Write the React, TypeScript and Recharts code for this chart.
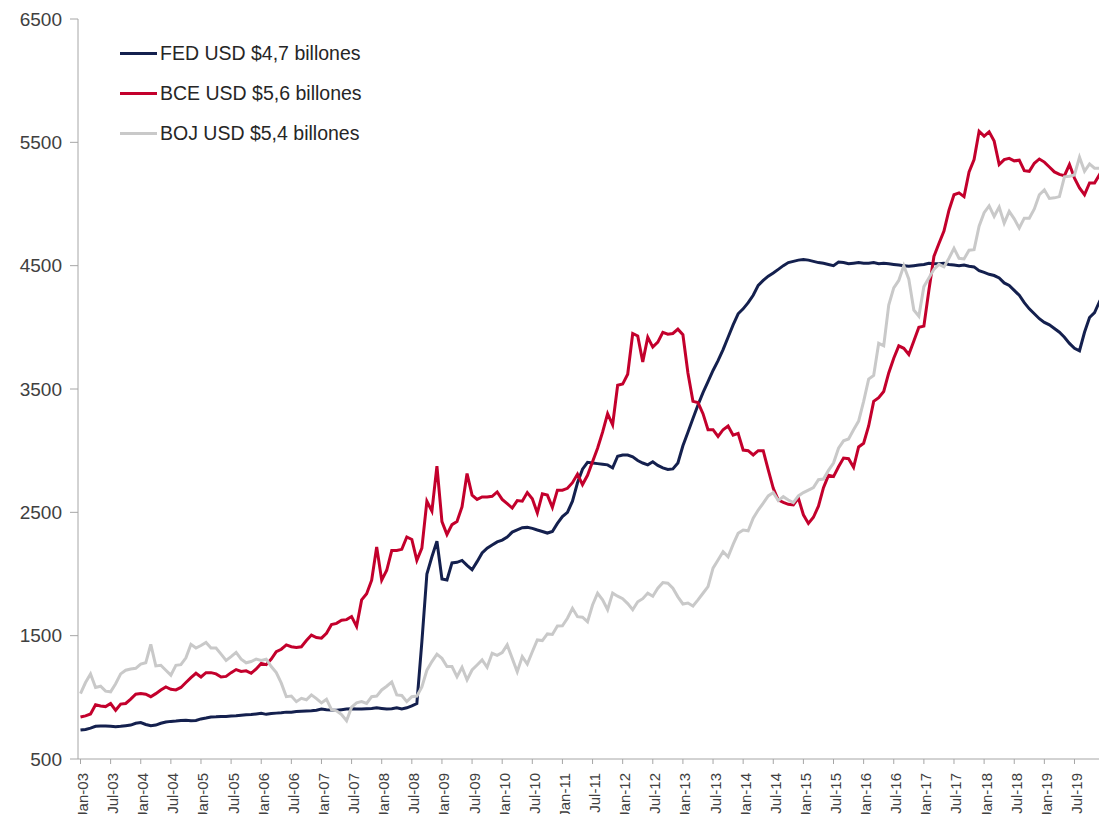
import { LineChart, Line, XAxis, YAxis } from "recharts";

// monthly, Jan-03 .. Jan-20 (USD billions)
const MONTHS = ["Jan", "Feb", "Mar", "Apr", "May", "Jun", "Jul", "Aug", "Sep", "Oct", "Nov", "Dec"];
const FIRST_YEAR = 3;

const FED = [
  735, 740, 750, 765, 768, 768, 765, 762, 765, 770, 775, 790,
  795, 780, 770, 775, 790, 800, 805, 808, 812, 815, 810, 812,
  825, 832, 840, 842, 845, 845, 848, 850, 855, 858, 860, 865,
  870, 862, 868, 872, 875, 880, 880, 885, 888, 890, 892, 895,
  905, 900, 897, 895, 900, 905, 908, 905, 905, 908, 910, 915,
  910, 905, 908, 915, 905, 915, 930, 950, 1450, 2000, 2140, 2265,
  1960, 1952, 2090, 2095, 2110, 2070, 2035, 2100, 2170, 2210, 2235, 2260,
  2275, 2300, 2340, 2357, 2375, 2378, 2370, 2357, 2345, 2332, 2345, 2410,
  2465, 2500, 2590, 2740, 2850, 2905, 2900, 2895, 2890, 2885, 2860, 2955,
  2965, 2965, 2950, 2920, 2900, 2885, 2910, 2880, 2860, 2848, 2852, 2900,
  3040, 3150, 3260, 3370, 3470, 3560, 3650, 3730, 3820, 3920, 4020, 4110,
  4150, 4200, 4260, 4340, 4380, 4415, 4440, 4470, 4500, 4525, 4535, 4545,
  4550, 4545, 4535, 4525, 4520, 4510, 4500, 4530, 4525, 4515, 4520, 4525,
  4520, 4520, 4525, 4515, 4520, 4515, 4510, 4505, 4500, 4495, 4500, 4505,
  4510, 4520, 4515, 4515, 4520, 4510, 4505, 4500, 4505, 4495, 4490, 4460,
  4445, 4430, 4420, 4400, 4360, 4340, 4300, 4260, 4200, 4150, 4110, 4070,
  4040, 4020, 3990, 3960, 3920, 3870, 3830, 3810, 3960, 4080, 4120, 4210,
  4200,
];

const BCE = [
  840, 850, 865, 940, 930, 925, 950, 895, 945, 950, 985, 1025,
  1030, 1025, 1005, 1030, 1060, 1085, 1065, 1060, 1080, 1120, 1160, 1195,
  1165, 1200, 1200, 1190, 1165, 1170, 1200, 1225, 1210, 1215, 1195, 1230,
  1275, 1265, 1310, 1370, 1390, 1425, 1410, 1405, 1410, 1460, 1505, 1485,
  1480, 1520, 1590, 1600, 1625, 1630, 1655, 1575, 1790, 1840, 1950, 2220,
  1950, 2030, 2190, 2190, 2200, 2300, 2280, 2110, 2210, 2590, 2510, 2875,
  2425, 2320, 2400, 2425, 2545, 2815, 2640, 2605, 2625, 2625, 2630, 2665,
  2605, 2570, 2535, 2595, 2590, 2660, 2610, 2495, 2650, 2640, 2540, 2680,
  2680, 2695, 2740, 2810, 2725, 2800, 2910, 3020, 3150, 3300, 3210, 3530,
  3540, 3620, 3950, 3930, 3720, 3920, 3840, 3880, 3960, 3945, 3950, 3985,
  3940, 3630, 3400, 3390, 3300, 3170, 3170, 3115, 3170, 3200, 3125, 3140,
  3005, 3000, 2965, 3000, 3000, 2845, 2695, 2600, 2580, 2565, 2560, 2615,
  2480, 2410, 2460, 2550, 2700, 2800, 2790, 2870, 2940, 2935, 2865, 3030,
  3060, 3200, 3400, 3430, 3480, 3630, 3750, 3850, 3830, 3780, 3890, 4000,
  4010, 4300, 4575, 4680, 4780, 4950, 5075, 5090, 5060, 5260, 5360, 5590,
  5550, 5585, 5510, 5320, 5360, 5370, 5350, 5355, 5270, 5265, 5330, 5365,
  5340, 5300, 5260, 5240, 5230, 5320, 5210, 5130, 5075, 5170, 5170, 5240,
  5175,
];

const BOJ = [
  1030, 1120, 1190, 1080, 1090, 1050, 1045, 1110, 1190, 1220, 1230, 1235,
  1270, 1280, 1430, 1255, 1260, 1220, 1180, 1260, 1265, 1320, 1430, 1400,
  1420, 1445, 1400, 1400, 1350, 1300, 1330, 1365, 1310, 1280, 1290, 1310,
  1300, 1310, 1250, 1200, 1115, 1005, 1010, 965, 992, 980, 1020, 990,
  955, 985, 900, 890, 860, 810, 920, 955, 965, 950, 1005, 1010,
  1060, 1090, 1125, 1020, 1015, 965, 1005, 1010, 1085, 1220, 1290, 1350,
  1316, 1250, 1250, 1168, 1244, 1141, 1222, 1262, 1303, 1244, 1357, 1340,
  1362, 1425, 1316, 1208, 1330, 1270, 1370, 1465, 1460, 1514, 1510, 1579,
  1580, 1641, 1722, 1654, 1650, 1613, 1749, 1844, 1790, 1710, 1845, 1820,
  1800, 1760, 1710, 1775, 1800, 1845, 1820, 1885, 1930, 1925, 1885, 1815,
  1757, 1765, 1741, 1790, 1844, 1898, 2047, 2114, 2181, 2140, 2240, 2330,
  2357, 2350, 2452, 2519, 2574, 2633, 2660, 2595, 2627, 2600, 2579, 2633,
  2660, 2680, 2700, 2765, 2770, 2840, 2900, 3020, 3080, 3095, 3170, 3240,
  3400, 3580, 3610, 3870, 3850, 4180, 4320, 4380, 4500, 4390, 4140, 4090,
  4330, 4400, 4470, 4510, 4490, 4560, 4640, 4560, 4555, 4625, 4630, 4820,
  4930, 4985, 4900, 4975, 4845, 4940, 4880, 4805, 4885, 4885, 4960, 5075,
  5115, 5045, 5050, 5060, 5220, 5225, 5235, 5380, 5265, 5325, 5290, 5290,
  5330,
];

const Y_TICKS = [500, 1500, 2500, 3500, 4500, 5500, 6500];

const SERIES = [
  { key: "fed", name: "FED USD $4,7 billones", color: "#14204e" },
  { key: "bce", name: "BCE USD $5,6 billones", color: "#c3002c" },
  { key: "boj", name: "BOJ USD $5,4 billones", color: "#c9c9c9" },
];

const monthLabel = (i: number) =>
  `${MONTHS[i % 12]}-${String(FIRST_YEAR + Math.floor(i / 12)).padStart(2, "0")}`;

const data = FED.map((v, i) => ({ month: monthLabel(i), fed: v, bce: BCE[i], boj: BOJ[i] }));

const PLOT_BOTTOM = 751;

function XTick({ x, payload }: any) {
  return (
    <g transform={`translate(${x},${PLOT_BOTTOM + 14})`}>
      <text transform="rotate(-90)" dy="0.5em" textAnchor="end" fontSize={15} fill="#404040">
        {payload.value}
      </text>
    </g>
  );
}

export default function App() {
  return (
    <div
      style={{
        position: "relative",
        width: 1099,
        height: 814,
        overflow: "hidden",
        marginBottom: -8,
        fontFamily: "'Liberation Sans', Arial, sans-serif",
      }}
    >
      <LineChart width={1107} height={814} data={data} margin={{ top: 11, right: 7.9, bottom: 0, left: 0 }}>
        <XAxis
          dataKey="month"
          interval={5}
          padding={{ left: 2.5, right: 2.5 }}
          height={814 - PLOT_BOTTOM}
          tickSize={5}
          stroke="#a6a6a6"
          tick={<XTick />}
        />
        <YAxis
          domain={[500, 6500]}
          ticks={Y_TICKS}
          width={70}
          tickSize={8}
          tickMargin={8}
          stroke="#a6a6a6"
          tick={{ fontSize: 19, fill: "#404040" }}
        />
        {SERIES.map((s) => (
          <Line
            key={s.key}
            type="linear"
            dataKey={s.key}
            name={s.name}
            stroke={s.color}
            strokeWidth={3}
            dot={false}
            isAnimationActive={false}
          />
        ))}
      </LineChart>
      <div style={{ position: "absolute", left: 112, top: 25 }}>
        {SERIES.map((s) => (
          <div key={s.key} style={{ display: "flex", alignItems: "center", height: 40 }}>
            <span style={{ display: "inline-block", width: 37, height: 3, background: s.color }} />
            <span style={{ marginLeft: 3, fontSize: 19.5, color: "#262626", whiteSpace: "nowrap" }}>{s.name}</span>
          </div>
        ))}
      </div>
    </div>
  );
}
